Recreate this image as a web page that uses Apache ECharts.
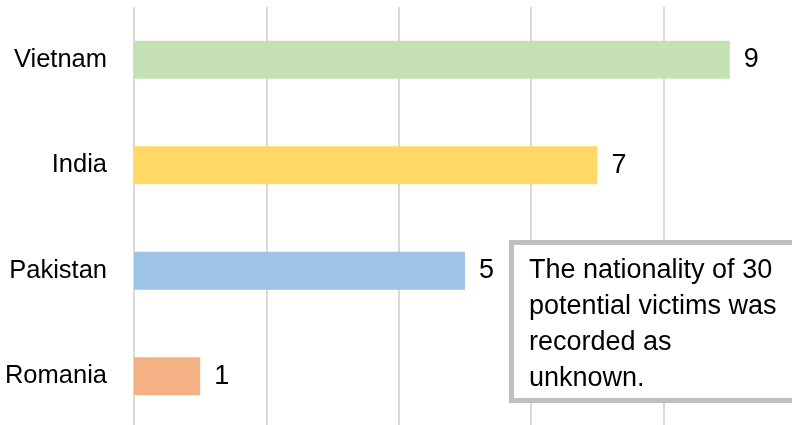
<!DOCTYPE html>
<html>
<head>
<meta charset="utf-8">
<script src="https://cdn.jsdelivr.net/npm/echarts@6/dist/echarts.min.js"></script>
<style>html,body{margin:0;padding:0;background:#fff;overflow:hidden;width:792px;height:425px;}#chart{width:797px;height:429px;}</style>
</head>
<body>
<div id="chart"></div>
<script>
const categories = ['Romania', 'Pakistan', 'India', 'Vietnam'];
const values = [1, 5, 7, 9];
const barColors = ['#f4b183', '#9dc3e6', '#ffd966', '#c5e0b4'];
const xTicks = [0, 2, 4, 6, 8, 10];
const noteText = 'The nationality of 30\npotential victims was\nrecorded as\nunknown.';

const chart = echarts.init(document.getElementById('chart'), null, {renderer: 'canvas'});
chart.setOption({
  animation: false,
  backgroundColor: '#ffffff',
  grid: {left: 134, right: 1, top: 7, bottom: 0, containLabel: false},
  xAxis: {
    type: 'value', min: xTicks[0], max: xTicks[xTicks.length - 1], interval: 2,
    axisLabel: {show: false}, axisLine: {show: false}, axisTick: {show: false},
    splitLine: {show: true, lineStyle: {color: '#d9d9d9', width: 2}}
  },
  yAxis: {
    type: 'category', data: categories,
    axisLine: {show: false}, axisTick: {show: false},
    axisLabel: {margin: 27, fontFamily: 'Liberation Sans', fontSize: 25.5, color: '#000'}
  },
  series: [{
    type: 'bar', barWidth: 38,
    data: values.map((v, i) => ({value: v, itemStyle: {color: barColors[i]}})),
    label: {show: true, position: 'right', distance: 14, fontFamily: 'Liberation Sans', fontSize: 27, color: '#000'}
  }],
  graphic: [
    {type: 'rect', left: 509, top: 240, shape: {width: 300, height: 158}, style: {fill: '#fff', stroke: '#bfbfbf', lineWidth: 5}, z: 10},
    {type: 'text', left: 529, top: 253, style: {text: noteText, font: '27px "Liberation Sans"', lineHeight: 36, fill: '#000'}, z: 11}
  ]
});
</script>
</body>
</html>
